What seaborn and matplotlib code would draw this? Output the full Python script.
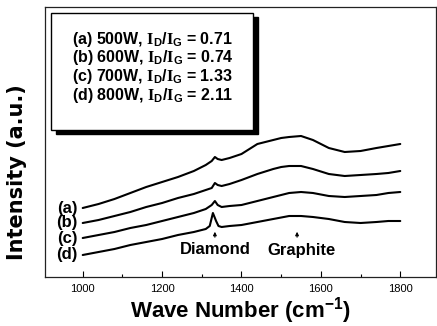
import numpy as np
import pandas as pd
import matplotlib
matplotlib.use("Agg")
import matplotlib.pyplot as plt
from matplotlib.patches import Rectangle
import seaborn as sns

# ---- data ----
wn_abc = [1000, 1040, 1080, 1120, 1160, 1200, 1240, 1280, 1310, 1325, 1333, 1340,
          1350, 1370, 1400, 1440, 1480, 1500, 1520, 1550, 1580, 1620, 1660, 1700,
          1740, 1770, 1800]
int_a = [69, 73, 78, 84, 90, 95, 100, 106, 112, 116, 120, 118,
         117, 119, 123, 133, 137, 139, 140, 141, 137, 129, 125, 126,
         129, 131, 133]
int_b = [54, 57, 61, 65, 70, 74, 79, 83, 87, 89, 94, 92,
         91, 93, 97, 103, 108, 110, 111, 111, 108, 103, 101, 102,
         103, 104, 106]
int_c = [39, 42, 45, 49, 52, 56, 60, 64, 68, 72, 76, 72,
         70, 71, 72, 76, 80, 82, 84, 85, 84, 81, 80, 81,
         82, 84, 85]
wn_d = [1000, 1040, 1080, 1120, 1160, 1200, 1240, 1280, 1310, 1320, 1328, 1336,
        1342, 1350, 1370, 1400, 1440, 1480, 1520, 1550, 1580, 1620, 1660, 1700,
        1740, 1770, 1800]
int_d = [22, 25, 28, 32, 35, 38, 42, 45, 48, 51, 64, 56,
         51, 50, 51, 52, 55, 58, 61, 61, 60, 58, 55, 54,
         55, 56, 56]

curve_tags = ["(a)", "(b)", "(c)", "(d)"]
powers = ["500W", "600W", "700W", "800W"]
ratios = ["0.71", "0.74", "1.33", "2.11"]
x_ticks = [1000, 1200, 1400, 1600, 1800]
peak_names = ["Diamond", "Graphite"]
peak_pos = [1333, 1540]

frames = []
for tag, wn, it in zip(curve_tags, [wn_abc, wn_abc, wn_abc, wn_d], [int_a, int_b, int_c, int_d]):
    frames.append(pd.DataFrame({"wn": wn, "I": it, "curve": tag}))
df = pd.concat(frames, ignore_index=True)

# ---- style ----
sns.set_style("white")
plt.rcParams["font.family"] = ["Liberation Sans", "DejaVu Sans"]
plt.rcParams["text.color"] = "black"
plt.rcParams["axes.labelcolor"] = "black"
plt.rcParams["xtick.color"] = "black"
plt.rcParams["mathtext.fontset"] = "custom"
plt.rcParams["mathtext.rm"] = "Liberation Serif:bold"
plt.rcParams["mathtext.sf"] = "Liberation Sans:bold"

fig = plt.figure(figsize=(4.37, 3.26), dpi=100)
ax = fig.add_axes([45 / 437, 49 / 326, 391 / 437, 270 / 326])

sns.lineplot(data=df, x="wn", y="I", hue="curve", palette=["black"] * 4,
             legend=False, linewidth=1.5, ax=ax, sort=False)

ax.set_xlim(905, 1890)
ax.set_ylim(0, 270)
ax.set_xticks(x_ticks)
ax.set_xticks(range(1100, 1800, 200), minor=True)
ax.set_yticks([])
ax.tick_params(axis="x", which="major", direction="in", length=4, width=0.8,
               labelsize=8, pad=5, bottom=True, colors="black")
ax.tick_params(axis="x", which="minor", direction="in", length=2.5, width=0.8,
               bottom=True, colors="black")
for s in ax.spines.values():
    s.set_linewidth(0.9)
    s.set_color("#222222")

ax.set_xlabel("Wave Number (cm$^{\\mathsf{-1}}$)", fontsize=16, fontweight="bold",
              labelpad=1, color="black")
ax.set_ylabel("Intensity (a.u.)", fontsize=15, fontweight="bold",
              family="DejaVu Sans", color="black")
ax.yaxis.set_label_coords(-0.045, 0.39)

# curve tags
for tag, it in zip(curve_tags, [int_a, int_b, int_c, int_d]):
    ax.text(988, it[0], tag, ha="right", va="center", fontsize=12,
            fontweight="bold")

# peak annotations
for name, pos in zip(peak_names, peak_pos):
    ax.annotate("", xy=(pos, 48), xytext=(pos, 37),
                arrowprops=dict(arrowstyle="-|>", lw=0.8, color="black",
                                mutation_scale=5))
ax.text(1335, 27, peak_names[0], ha="center", va="center", fontsize=12,
        fontweight="bold")
ax.text(1550, 27, peak_names[1], ha="center", va="center", fontsize=12,
        fontweight="bold")

# legend-like box with shadow
tr = ax.transAxes
ax.add_patch(Rectangle((0.0153 + 0.012, 0.544 - 0.015), 0.517, 0.433,
                       transform=tr, facecolor="black", edgecolor="black",
                       zorder=5))
ax.add_patch(Rectangle((0.0153, 0.544), 0.517, 0.433, transform=tr,
                       facecolor="white", edgecolor="black", lw=1.0, zorder=6))
ys = [0.889, 0.822, 0.752, 0.681]
for tag, pw, r, y in zip(curve_tags, powers, ratios, ys):
    ax.text(0.069, y, f"{tag} {pw}, $\\mathrm{{I}}_{{\\mathsf{{D}}}}$/$\\mathrm{{I}}_{{\\mathsf{{G}}}}$ = {r}",
            transform=tr, ha="left", va="center_baseline", fontsize=11.5,
            fontweight="bold", zorder=7)

fig.savefig("out.png", dpi=100)
